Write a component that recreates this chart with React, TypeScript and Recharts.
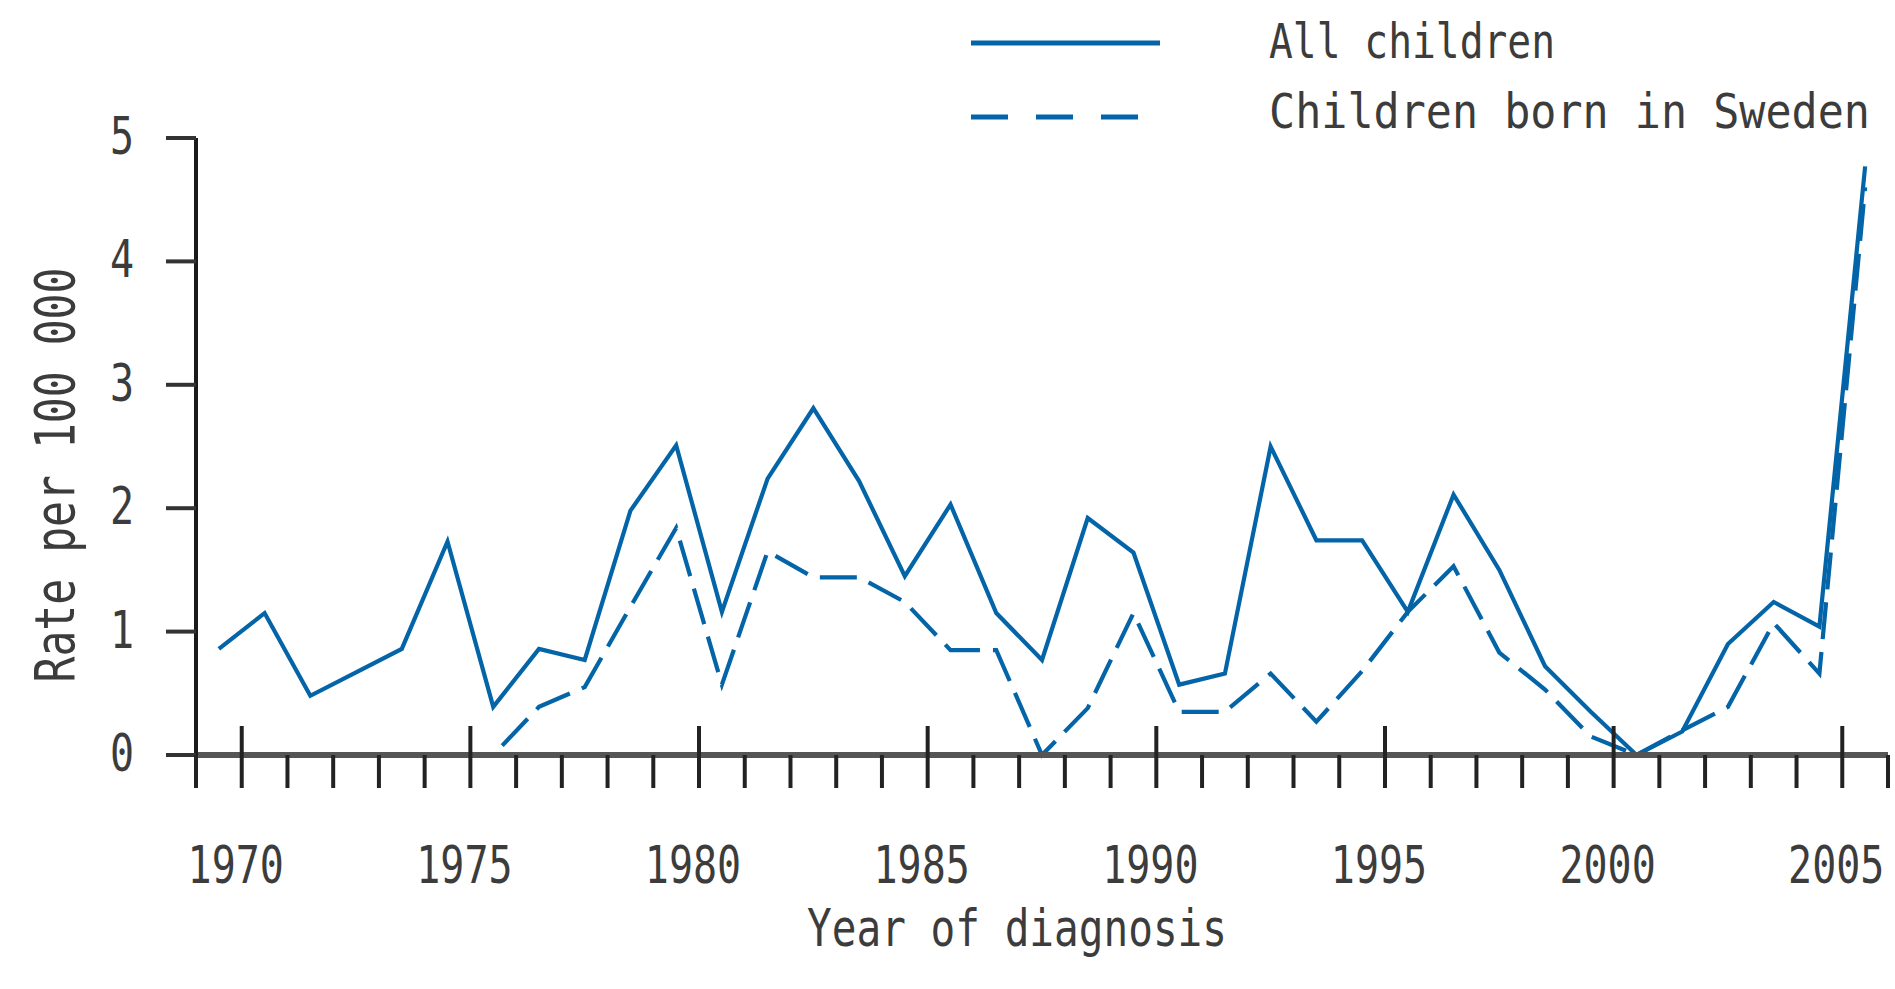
import React from 'react';
import { LineChart, Line, XAxis, YAxis, Legend } from 'recharts';

// year of diagnosis (each value plotted in the middle of its year)
const years = [
  1969, 1970, 1971, 1972, 1973, 1974, 1975, 1976, 1977, 1978,
  1979, 1980, 1981, 1982, 1983, 1984, 1985, 1986, 1987, 1988,
  1989, 1990, 1991, 1992, 1993, 1994, 1995, 1996, 1997, 1998,
  1999, 2000, 2001, 2002, 2003, 2004, 2005,
];

// rate per 100 000
const allChildren = [
  0.86, 1.15, 0.48, 0.67, 0.86, 1.73, 0.39, 0.86, 0.77, 1.98,
  2.51, 1.16, 2.24, 2.81, 2.22, 1.45, 2.03, 1.15, 0.77, 1.92,
  1.64, 0.57, 0.66, 2.5, 1.74, 1.74, 1.16, 2.11, 1.5, 0.72,
  0.35, 0, 0.19, 0.9, 1.24, 1.04, 4.77,
];

const bornInSweden = [
  null, null, null, null, null, null, 0, 0.39, 0.55, 1.2,
  1.84, 0.57, 1.65, 1.44, 1.44, 1.24, 0.85, 0.85, 0, 0.38,
  1.15, 0.35, 0.35, 0.66, 0.27, 0.68, 1.16, 1.53, 0.83, 0.53,
  0.15, 0, 0.2, 0.39, 1.07, 0.66, 4.6,
];

const seriesNames = ['All children', 'Children born in Sweden'];
const xTicks = [...years, 2006];
const labelYears = [1970, 1975, 1980, 1985, 1990, 1995, 2000, 2005];
const yTicks = [0, 1, 2, 3, 4, 5];

const data = years.map((year, i) => ({
  x: year + 0.5,
  all: allChildren[i],
  sweden: bornInSweden[i],
}));

const BLUE = '#0464a8';
const INK = '#3c3c3c';
const FONT = "'DejaVu Sans Mono', monospace";

// the reference font is a tall, narrow mono face: stretch DejaVu Sans Mono vertically
const MonoText = ({ x, y, size, sy, anchor = 'middle', length, rotate = 0, children }: any) => (
  <text
    transform={`translate(${x},${y}) rotate(${rotate}) scale(1,${sy})`}
    x={0}
    y={0}
    fontFamily={FONT}
    fontSize={size}
    textAnchor={anchor}
    fill={INK}
    textLength={length}
    lengthAdjust={length ? 'spacingAndGlyphs' : undefined}
  >
    {children}
  </text>
);

const YearTick = ({ x, y, payload }: any) => {
  const v = payload.value;
  const major = v % 5 === 0;
  return (
    <g>
      <line x1={x} x2={x} y1={y} y2={y + 33} stroke="#222" strokeWidth={4} />
      {major && <line x1={x} x2={x} y1={y - 29} y2={y} stroke="#222" strokeWidth={4} />}
      {labelYears.includes(v) && (
        <MonoText x={x - 6} y={883} size={40} sy={1.27}>
          {String(v)}
        </MonoText>
      )}
    </g>
  );
};

const RateTick = ({ x, y, payload }: any) => (
  <MonoText x={x} y={y + 16} size={40} sy={1.27}>
    {String(payload.value)}
  </MonoText>
);

const LegendBox = () => (
  <svg width={1895} height={140} style={{ display: 'block' }}>
    <line x1={971} x2={1160} y1={43} y2={43} stroke={BLUE} strokeWidth={5} />
    <line x1={971} x2={1139} y1={117} y2={117} stroke={BLUE} strokeWidth={5} strokeDasharray="37 28" />
    <MonoText x={1269} y={58} size={41} sy={1.17} anchor="start" length={286}>
      {seriesNames[0]}
    </MonoText>
    <MonoText x={1269} y={128} size={41} sy={1.17} anchor="start" length={601}>
      {seriesNames[1]}
    </MonoText>
  </svg>
);

export default function App() {
  return (
    <div style={{ position: 'absolute', left: 0, top: 0, background: '#fff' }}>
      <LineChart
        width={1895}
        height={985}
        data={data}
        margin={{ top: 138, right: 7, bottom: 0, left: 0 }}
      >
        <XAxis
          dataKey="x"
          type="number"
          domain={[1969, 2006]}
          ticks={xTicks}
          interval={0}
          allowDataOverflow
          height={230}
          tickSize={0}
          tickMargin={0}
          axisLine={{ stroke: '#555', strokeWidth: 6 }}
          tickLine={false}
          tick={<YearTick />}
        />
        <YAxis
          type="number"
          domain={[0, 5]}
          ticks={yTicks}
          interval={0}
          width={196}
          tickSize={30}
          tickMargin={44}
          axisLine={{ stroke: '#1a1a1a', strokeWidth: 4 }}
          tickLine={{ stroke: '#333', strokeWidth: 4 }}
          tick={<RateTick />}
        />
        <Legend
          layout="horizontal"
          verticalAlign="middle"
          align="center"
          wrapperStyle={{ position: 'absolute', top: 0, left: 0, width: 1895, height: 140 }}
          content={<LegendBox />}
        />
        <Line
          type="linear"
          dataKey="all"
          name={seriesNames[0]}
          stroke={BLUE}
          strokeWidth={4.2}
          dot={false}
          activeDot={false}
          isAnimationActive={false}
        />
        <Line
          type="linear"
          dataKey="sweden"
          name={seriesNames[1]}
          stroke={BLUE}
          strokeWidth={4.2}
          strokeDasharray="37 13"
          strokeDashoffset={37}
          dot={false}
          activeDot={false}
          isAnimationActive={false}
        />
      </LineChart>
      <div style={{ position: 'absolute', left: 0, top: 0, pointerEvents: 'none' }}>
        <svg width={1895} height={985}>
          <MonoText x={1017} y={946} size={41} sy={1.27} length={420}>
            Year of diagnosis
          </MonoText>
          <MonoText x={74} y={475} size={43} sy={1.27} rotate={-90} length={415}>
            Rate per 100 000
          </MonoText>
        </svg>
      </div>
    </div>
  );
}
